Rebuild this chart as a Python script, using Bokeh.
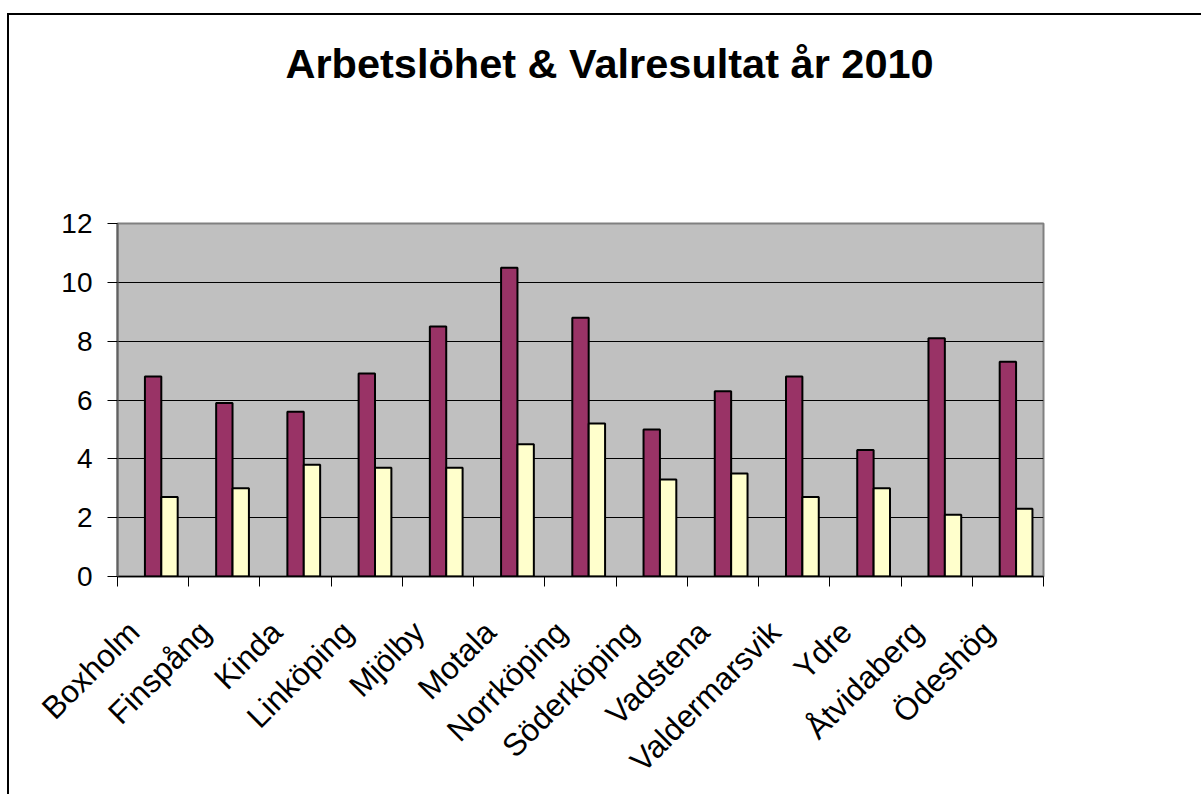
import math
from bokeh.plotting import figure
from bokeh.models import ColumnDataSource, Range1d, FixedTicker, Title
from bokeh.transform import dodge
from bokeh.embed import file_html
from bokeh.resources import INLINE

categories = ["Boxholm", "Finspång", "Kinda", "Linköping", "Mjölby", "Motala",
              "Norrköping", "Söderköping", "Vadstena", "Valdermarsvik", "Ydre",
              "Åtvidaberg", "Ödeshög"]
arbetsloshet = [6.8, 5.9, 5.6, 6.9, 8.5, 10.5, 8.8, 5.0, 6.3, 6.8, 4.3, 8.1, 7.3]
valresultat = [2.7, 3.0, 3.8, 3.7, 3.7, 4.5, 5.2, 3.3, 3.5, 2.7, 3.0, 2.1, 2.3]
y_ticks = [0, 2, 4, 6, 8, 10, 12]
title_text = "Arbetslöhet & Valresultat år 2010"

FONT = "Liberation Sans"
n = len(categories)
pos = [i + 0.5 for i in range(n)]
label_pos = [i + 0.23 for i in range(n)]
source = ColumnDataSource(dict(x=pos, a=arbetsloshet, v=valresultat))

W, H = 1194, 779
OX, OY = 9, 15  # canvas origin on page
MBL = 117 - OX
MBR = OX + W - 1043
MBB = OY + H - 578

p = figure(width=W, height=H, output_backend="svg", toolbar_location=None,
           title=None,
           x_range=Range1d(0, n), y_range=Range1d(0, 12),
           min_border_left=MBL, min_border_right=MBR,
           min_border_top=0, min_border_bottom=MBB)
p.styles = {"transform": f"translate({OX}px, {OY}px)",
            "box-shadow": "-2px -2px 0px 0px black, -2px 6px 0px 0px black"}

p.background_fill_color = "#C0C0C0"
p.border_fill_color = "white"
p.outline_line_color = "#808080"
p.outline_line_width = 2

bw = 0.23
p.vbar(x=dodge("x", 0.0, range=p.x_range), top="a", bottom=0, width=bw, source=source,
       fill_color="#993366", line_color="black", line_width=2)
p.vbar(x=dodge("x", bw, range=p.x_range), top="v", bottom=0, width=bw, source=source,
       fill_color="#FFFFCC", line_color="black", line_width=2)

# x axis
xa = p.xaxis[0]
xa.ticker = FixedTicker(ticks=label_pos, minor_ticks=list(range(n + 1)))
xa.major_label_overrides = {lp: c for lp, c in zip(label_pos, categories)}
xa.major_tick_out = 0
xa.major_tick_in = 0
xa.minor_tick_out = 10
xa.minor_tick_in = 0
xa.minor_tick_line_color = "black"
xa.axis_line_color = "black"
xa.axis_line_width = 1.5
xa.major_label_orientation = math.pi / 4
xa.major_label_text_font = FONT
xa.major_label_text_font_size = "31.5px"
xa.major_label_text_color = "black"
xa.major_label_standoff = 40

# y axis
ya = p.yaxis[0]
ya.ticker = FixedTicker(ticks=y_ticks)
ya.major_tick_out = 10
ya.major_tick_in = 0
ya.minor_tick_line_color = None
ya.major_tick_line_color = "black"
ya.axis_line_color = "#606060"
ya.axis_line_width = 2
ya.major_label_text_font = FONT
ya.major_label_text_font_size = "28px"
ya.major_label_text_color = "black"
ya.major_label_standoff = 15

p.xgrid.grid_line_color = None
p.ygrid.grid_line_color = "black"
p.ygrid.grid_line_width = 1

# spacer between title and plot area (closest to the frame), then the title
p.add_layout(Title(text=" ", text_font=FONT, text_font_size="10px", standoff=102), "above")
p.add_layout(Title(text=title_text, align="left", text_font=FONT,
                   text_font_size="41.5px", text_font_style="bold", text_color="black",
                   offset=168, standoff=44), "above")

open("out.html", "w").write(file_html(p, INLINE))
